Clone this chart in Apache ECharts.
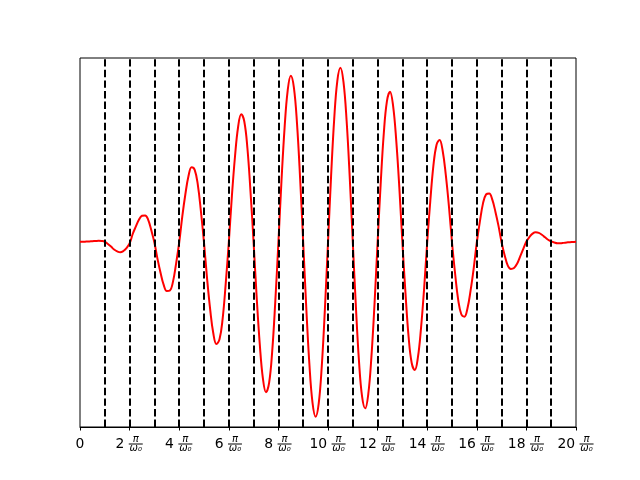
<!DOCTYPE html>
<html><head><meta charset="utf-8">
<script src="https://cdn.jsdelivr.net/npm/echarts@6/dist/echarts.min.js"></script>
<style>html,body{margin:0;padding:0;background:#fff}#c{width:640px;height:480px}</style>
</head><body><div id="c"></div>
<script>
const xs = [0,0.125,0.25,0.375,0.5,0.625,0.75,0.875,1,1.125,1.25,1.375,1.5,1.625,1.75,1.875,2,2.125,2.25,2.375,2.5,2.625,2.75,2.875,3,3.125,3.25,3.375,3.5,3.625,3.75,3.875,4,4.125,4.25,4.375,4.5,4.625,4.75,4.875,5,5.125,5.25,5.375,5.5,5.625,5.75,5.875,6,6.125,6.25,6.375,6.5,6.625,6.75,6.875,7,7.125,7.25,7.375,7.5,7.625,7.75,7.875,8,8.125,8.25,8.375,8.5,8.625,8.75,8.875,9,9.125,9.25,9.375,9.5,9.625,9.75,9.875,10,10.125,10.25,10.375,10.5,10.625,10.75,10.875,11,11.125,11.25,11.375,11.5,11.625,11.75,11.875,12,12.125,12.25,12.375,12.5,12.625,12.75,12.875,13,13.125,13.25,13.375,13.5,13.625,13.75,13.875,14,14.125,14.25,14.375,14.5,14.625,14.75,14.875,15,15.125,15.25,15.375,15.5,15.625,15.75,15.875,16,16.125,16.25,16.375,16.5,16.625,16.75,16.875,17,17.125,17.25,17.375,17.5,17.625,17.75,17.875,18,18.125,18.25,18.375,18.5,18.625,18.75,18.875,19,19.125,19.25,19.375,19.5,19.625,19.75,19.875,20];
const ys = [
  0.004,0.004,0.005,0.006,0.007,0.008,0.009,0.008,
  0.004,-0.008,-0.022,-0.038,-0.048,-0.053,-0.046,-0.030,
  -0.005,0.046,0.086,0.123,0.145,0.147,0.123,0.066,
  0,-0.089,-0.165,-0.230,-0.263,-0.260,-0.212,-0.114,
  0,0.142,0.263,0.360,0.408,0.394,0.314,0.170,
  0,-0.197,-0.364,-0.492,-0.550,-0.525,-0.415,-0.224,
  0,0.252,0.466,0.626,0.695,0.656,0.512,0.276,
  0,-0.299,-0.553,-0.737,-0.812,-0.761,-0.590,-0.319,
  0,0.336,0.623,0.825,0.904,0.840,0.646,0.349,
  0,-0.356,-0.660,-0.868,-0.944,-0.873,-0.668,-0.361,
  0,0.361,0.669,0.875,0.947,0.869,0.661,0.357,
  0,-0.348,-0.644,-0.836,-0.899,-0.821,-0.621,-0.335,
  0,0.320,0.592,0.765,0.817,0.741,0.556,0.300,
  0,-0.276,-0.511,-0.653,-0.691,-0.623,-0.465,-0.251,
  0,0.225,0.417,0.529,0.556,0.496,0.366,0.198,
  0,-0.168,-0.311,-0.389,-0.402,-0.356,-0.260,-0.140,
  0,0.114,0.212,0.261,0.266,0.232,0.167,0.090,
  0,-0.070,-0.125,-0.143,-0.138,-0.115,-0.075,-0.035,
  0.005,0.030,0.048,0.055,0.052,0.042,0.028,0.015,
  0.006,0.000,-0.004,-0.004,-0.002,0.000,0.002,0.003,
  0.004
];
const vlines = [1,2,3,4,5,6,7,8,9,10,11,12,13,14,15,16,17,18,19];
const tickNumbers = [0,2,4,6,8,10,12,14,16,18,20];

const FONT = 'DejaVu Sans';
const rich = {
  pi: {fontFamily: FONT, fontSize: 10, fontStyle: 'italic', width: 16, align: 'center', lineHeight: 7, color: '#000'},
  bar: {width: 14, height: 1, backgroundColor: '#000', lineHeight: 2},
  w: {fontFamily: FONT, fontSize: 10, fontStyle: 'italic', width: 16, align: 'center', lineHeight: 6, color: '#000'},
  e1: {width: 0, lineHeight: 7},
  e2: {width: 0, lineHeight: 2},
  e3: {width: 0, lineHeight: 6}
};
[1, 2].forEach(len => {
  const wd = 8.8 * len + 3.5;
  rich['n' + len] = {fontFamily: FONT, fontSize: 13.9, width: wd, align: 'left', lineHeight: 2, color: '#000'};
  rich['p' + len] = {width: wd, lineHeight: 2};
});
rich.n0 = {fontFamily: FONT, fontSize: 13.9, width: 8.8, align: 'center', lineHeight: 2, color: '#000'};
rich.p0 = {width: 8.8, lineHeight: 2};

function fmt(v) {
  if (tickNumbers.indexOf(v) < 0) return '';
  if (v === 0) return '{p0|}{e1|}\n{n0|0}{e2|}\n{p0|}{e3|}';
  const s = String(v), L = s.length;
  return '{p' + L + '|}{pi|π}\n{n' + L + '|' + s + '}{bar|}\n{p' + L + '|}{w|ω₀}';
}

const chart = echarts.init(document.getElementById('c'), null, {renderer: 'canvas'});
chart.setOption({
  animation: false,
  backgroundColor: '#fff',
  grid: {left: 80, right: 64, top: 58, bottom: 53, show: true, borderColor: '#000', borderWidth: 1, backgroundColor: 'transparent'},
  xAxis: {
    type: 'value', min: 0, max: 20, interval: 2,
    axisLine: {show: true, onZero: false, lineStyle: {color: '#000', width: 1}},
    axisTick: {show: true, length: 3.5, lineStyle: {color: '#000', width: 1}},
    splitLine: {show: false},
    axisLabel: {show: true, margin: 9, formatter: fmt, rich: rich, color: '#000'}
  },
  yAxis: {type: 'value', min: -1, max: 1, show: false, splitLine: {show: false}},
  series: [
    {
      type: 'line', data: xs.map((x, i) => [x, ys[i]]), smooth: 0.4, showSymbol: false,
      lineStyle: {color: '#ff0000', width: 2}, z: 2, silent: true
    },
    {
      type: 'line', data: [], z: 3, silent: true,
      markLine: {
        silent: true, symbol: ['none', 'none'], label: {show: false}, animation: false,
        lineStyle: {color: '#000', width: 2, type: [7.4, 3.2]},
        data: vlines.map(v => ({xAxis: v}))
      }
    }
  ]
});
</script></body></html>
